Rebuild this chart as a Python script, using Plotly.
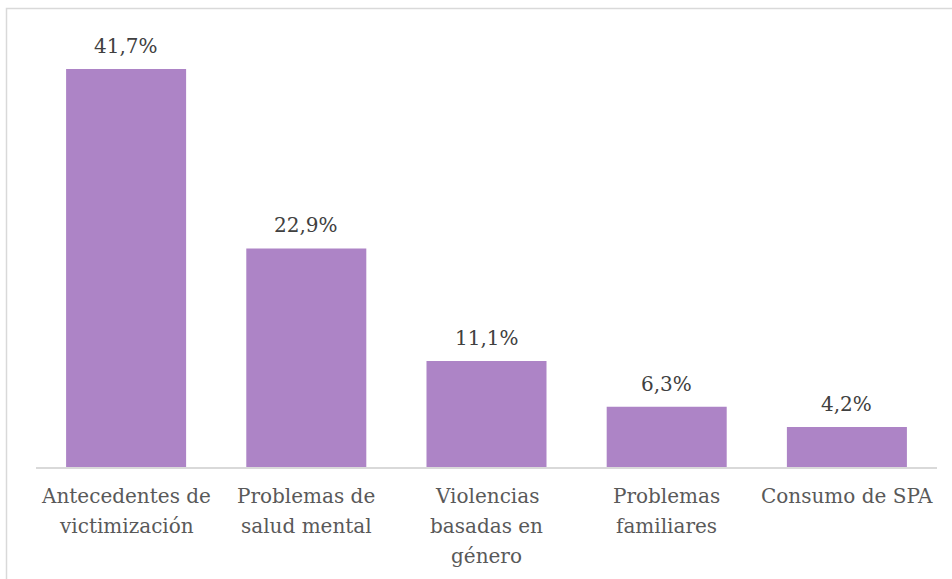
import plotly.graph_objects as go

categories = [
    "Antecedentes de<br>victimización",
    "Problemas de<br>salud mental",
    "Violencias<br>basadas en<br>género",
    "Problemas<br>familiares",
    "Consumo de SPA",
]
values = [41.7, 22.9, 11.1, 6.3, 4.2]
labels = [f"{v:.1f}%".replace(".", ",") for v in values]

W, H = 952, 579
ml, mr, mt, mb = 36, 15, 20, 112
FONT = "DejaVu Serif"

fig = go.Figure(
    go.Bar(
        x=categories,
        y=values,
        marker=dict(color="#AD84C6", line=dict(width=0)),
        hoverinfo="y",
    )
)

# value labels above bars
for c, v, t in zip(categories, values, labels):
    fig.add_annotation(
        x=c, y=v, text=t, showarrow=False, yanchor="bottom", yshift=9,
        font=dict(family=FONT, size=20, color="#404040"),
    )

# category labels, one annotation per line for Word-like line spacing
for c in categories:
    for i, line in enumerate(c.split("<br>")):
        fig.add_annotation(
            x=c, y=0, yref="y", text=line, showarrow=False, yanchor="top",
            yshift=-15 - 30 * i,
            font=dict(family=FONT, size=20, color="#595959"),
        )

fig.update_layout(
    width=W,
    height=H,
    margin=dict(l=ml, r=mr, t=mt, b=mb),
    paper_bgcolor="white",
    plot_bgcolor="white",
    separators=",.",
    bargap=0.334,
    showlegend=False,
    font=dict(family=FONT, size=20, color="#595959"),
    xaxis=dict(
        showline=True,
        linecolor="#D9D9D9",
        linewidth=1.5,
        ticks="",
        showgrid=False,
        showticklabels=False,
    ),
    yaxis=dict(visible=False, range=[0, 46.83], showgrid=False, zeroline=False),
    shapes=[
        dict(
            type="rect",
            xref="paper",
            yref="paper",
            x0=(6.5 - ml) / (W - ml - mr),
            x1=(W + 20 - ml) / (W - ml - mr),
            y0=-(mb + 20) / (H - mt - mb),
            y1=1 + (mt - 8.5) / (H - mt - mb),
            line=dict(color="#D9D9D9", width=1.5),
            layer="below",
        )
    ],
)

fig.write_html(
    "out.html",
    config={"displayModeBar": False},
    post_script="document.body.style.margin='0';document.body.style.overflow='hidden';",
)
